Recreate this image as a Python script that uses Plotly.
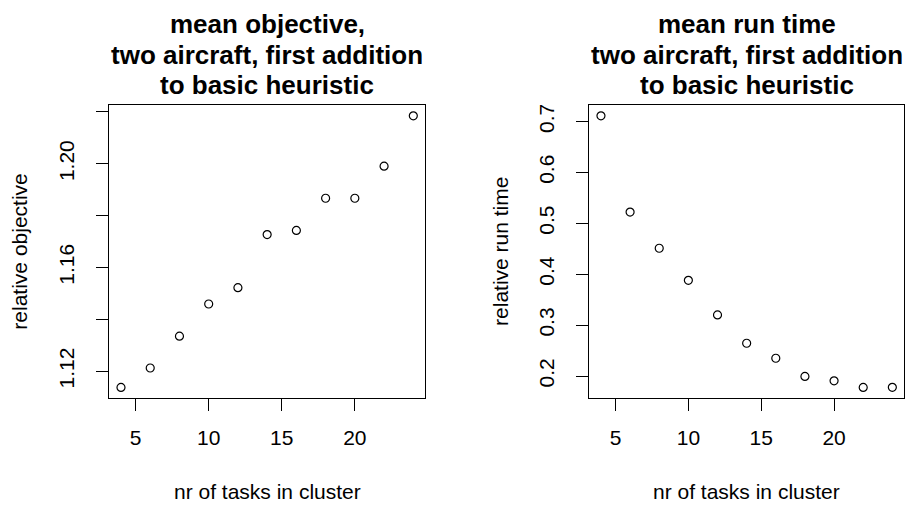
import plotly.graph_objects as go

# ---- data ----
tasks = [4, 6, 8, 10, 12, 14, 16, 18, 20, 22, 24]
rel_objective = [1.1137, 1.1212, 1.1335, 1.1459, 1.1522, 1.1727, 1.1743, 1.1867, 1.1867, 1.1991, 1.2185]
rel_runtime = [0.711, 0.522, 0.451, 0.388, 0.320, 0.2645, 0.235, 0.1994, 0.1907, 0.1777, 0.178]

x_ticks = [5, 10, 15, 20]
y1_ticks = [1.12, 1.14, 1.16, 1.18, 1.20, 1.22]
y1_ticktext = ["1.12", "", "1.16", "", "1.20", ""]
y2_ticks = [0.2, 0.3, 0.4, 0.5, 0.6, 0.7]
y2_ticktext = ["0.2", "0.3", "0.4", "0.5", "0.6", "0.7"]

title_left = ["mean objective,", "two aircraft, first addition", "to basic heuristic"]
title_right = ["mean run time", "two aircraft, first addition", "to basic heuristic"]
xlab = "nr of tasks in cluster"
ylab_left = "relative objective"
ylab_right = "relative run time"


def rpad(vals, f=0.04):
    lo, hi = min(vals), max(vals)
    d = (hi - lo) * f
    return [lo - d, hi + d]


W, H = 910, 505
FONT = "Liberation Sans, Arial, sans-serif"

fig = go.Figure()
marker = dict(symbol="circle-open", size=8, color="black", line=dict(width=1.2, color="black"))
fig.add_trace(go.Scatter(x=tasks, y=rel_objective, mode="markers", marker=marker,
                         xaxis="x", yaxis="y", showlegend=False))
fig.add_trace(go.Scatter(x=tasks, y=rel_runtime, mode="markers", marker=marker,
                         xaxis="x2", yaxis="y2", showlegend=False))

# panel boxes in pixels
L = (109.3, 425.0)
R = (589.3, 904.0)
top, bot = 105.0, 398.3
ydom = [1 - bot / H, 1 - top / H]

axis_common = dict(showline=True, mirror=True, linecolor="black", linewidth=1.3,
                   ticks="outside", ticklen=12, tickwidth=1.3, tickcolor="black",
                   showgrid=False, zeroline=False,
                   tickfont=dict(family=FONT, size=21, color="black"))

fig.update_layout(
    width=W, height=H,
    margin=dict(l=0, r=0, t=0, b=0),
    paper_bgcolor="white", plot_bgcolor="white",
    xaxis=dict(domain=[L[0] / W, L[1] / W], range=rpad(tasks), tickvals=x_ticks,
               anchor="y", ticklabelstandoff=8, **axis_common),
    yaxis=dict(domain=ydom, range=rpad(rel_objective), tickvals=y1_ticks,
               ticktext=y1_ticktext, tickangle=-90, anchor="x", ticklabelstandoff=14,
               **axis_common),
    xaxis2=dict(domain=[R[0] / W, R[1] / W], range=rpad(tasks), tickvals=x_ticks,
                anchor="y2", ticklabelstandoff=8, **axis_common),
    yaxis2=dict(domain=ydom, range=rpad(rel_runtime), tickvals=y2_ticks,
                ticktext=y2_ticktext, tickangle=-90, anchor="x2", ticklabelstandoff=14,
                **axis_common),
)

ann = []
line_y = [24, 55, 85]
for lines, box in ((title_left, L), (title_right, R)):
    cx = (box[0] + box[1]) / 2 / W
    for txt, yy in zip(lines, line_y):
        ann.append(dict(text="<b>%s</b>" % txt, x=cx, y=1 - yy / H, xref="paper", yref="paper",
                        xanchor="center", yanchor="middle", showarrow=False,
                        font=dict(family=FONT, size=26, color="black")))
    ann.append(dict(text=xlab, x=cx, y=1 - 491 / H, xref="paper", yref="paper",
                    xanchor="center", yanchor="middle", showarrow=False,
                    font=dict(family=FONT, size=21, color="black")))

cy = 1 - (top + bot) / 2 / H
ann.append(dict(text=ylab_left, x=20 / W, y=cy, xref="paper", yref="paper",
                xanchor="center", yanchor="middle", textangle=-90, showarrow=False,
                font=dict(family=FONT, size=21, color="black")))
ann.append(dict(text=ylab_right, x=(R[0] - 89) / W, y=cy, xref="paper", yref="paper",
                xanchor="center", yanchor="middle", textangle=-90, showarrow=False,
                font=dict(family=FONT, size=21, color="black")))
fig.update_layout(annotations=ann)

fig.write_html("out.html")
